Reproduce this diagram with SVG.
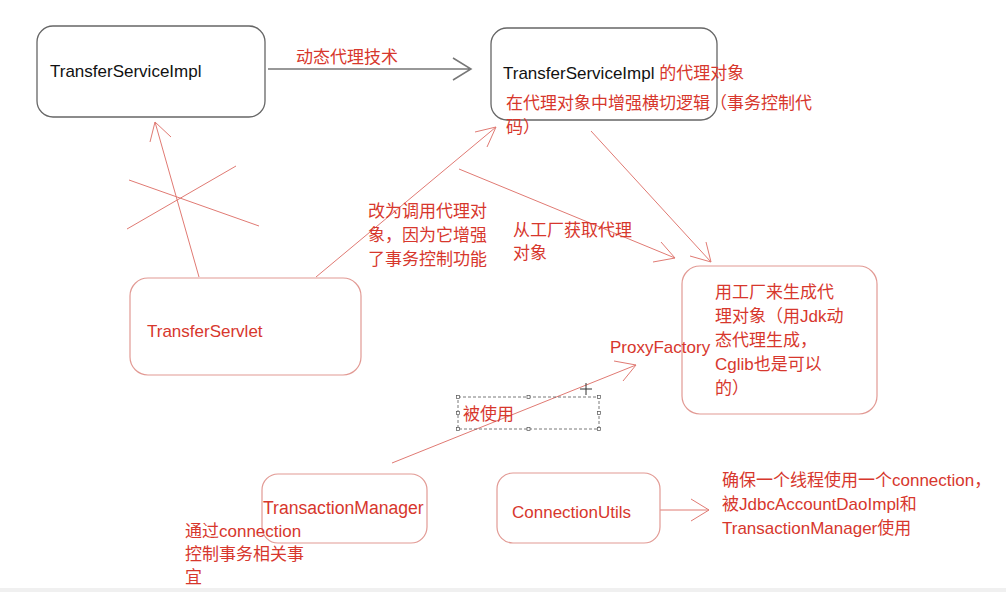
<svg xmlns="http://www.w3.org/2000/svg" width="1006" height="592" viewBox="0 0 1006 592">
<style>
text{font-family:"Liberation Sans","Noto Sans CJK SC",sans-serif;font-size:17px;fill:#d7372d}
.k{fill:#111}
.bb{fill:#fff;stroke:#666;stroke-width:1.3}
.rb{fill:#fff;stroke:#e29a94;stroke-width:1.2}
.ra{fill:none;stroke:#e07a73;stroke-width:1}
.ga{fill:none;stroke:#777;stroke-width:1.5}
</style>
<rect width="1006" height="592" fill="#fff"/>
<rect x="0" y="588" width="1006" height="4" fill="#f0f0f0"/>
<g id="connectors">
<path class="ga" d="M268 69H471M453 58L471 69L453 80"/>
<path class="ra" d="M199 277L155 122M150 142L155 122L171 137"/>
<path class="ra" d="M129 180L259 226M127 229L236 166"/>
<path class="ra" d="M316 277L496 127M475 132L496 127L487 147"/>
<path class="ra" d="M459 169L675 258M661 242L675 258L653 262"/>
<path class="ra" d="M591 131L711 262M706 242L711 262L690 256"/>
<path class="ra" d="M392 463L636 365M614 361L636 365L623 381"/>
<path class="ra" d="M660 510H709M691 499L709 510L691 521"/>
</g>
<g id="n-impl">
<rect class="bb" x="37" y="26" width="228" height="91" rx="16"/>
<text class="k" x="50" y="77">TransferServiceImpl</text>
</g>
<text x="296" y="63">动态代理技术</text>
<g id="n-proxy">
<rect class="bb" x="491" y="28" width="226" height="92" rx="16"/>
<text x="503" y="79"><tspan class="k">TransferServiceImpl</tspan> 的代理对象</text>
<text x="506" y="109">在代理对象中增强横切逻辑（事务控制代</text>
<text x="506" y="133">码）</text>
</g>
<g id="n-servlet">
<rect class="rb" x="130" y="278" width="231" height="97" rx="18"/>
<text x="147" y="337">TransferServlet</text>
</g>
<text x="368" y="217">改为调用代理对</text>
<text x="368" y="241">象，因为它增强</text>
<text x="368" y="265">了事务控制功能</text>
<text x="513" y="236">从工厂获取代理</text>
<text x="513" y="259">对象</text>
<g id="n-factory">
<rect class="rb" x="682" y="266" width="195" height="148" rx="18"/>
<text x="715" y="298">用工厂来生成代</text>
<text x="715" y="322">理对象（用Jdk动</text>
<text x="715" y="346">态代理生成，</text>
<text x="715" y="370">Cglib也是可以</text>
<text x="715" y="394">的）</text>
</g>
<text x="610" y="353">ProxyFactory</text>
<g id="selection">
<rect x="458" y="397" width="141" height="32" fill="none" stroke="#555" stroke-width="0.8" stroke-dasharray="3,2"/>
<g fill="#fff" stroke="#555" stroke-width="0.7">
<rect x="456.5" y="395.5" width="3" height="3"/><rect x="527" y="395.5" width="3" height="3"/><rect x="597.5" y="395.5" width="3" height="3"/>
<rect x="456.5" y="411.5" width="3" height="3"/><rect x="597.5" y="411.5" width="3" height="3"/>
<rect x="456.5" y="427.5" width="3" height="3"/><rect x="527" y="427.5" width="3" height="3"/><rect x="597.5" y="427.5" width="3" height="3"/>
</g>
<text x="463" y="420">被使用</text>
<path d="M586 383V395M580 389H592" stroke="#333" stroke-width="1"/>
</g>
<g id="n-tm">
<rect class="rb" x="262" y="474" width="165" height="69" rx="16"/>
<text x="263" y="514" style="font-size:17.6px">TransactionManager</text>
</g>
<text x="185" y="537">通过connection</text>
<text x="185" y="560">控制事务相关事</text>
<text x="185" y="583">宜</text>
<g id="n-cu">
<rect class="rb" x="497" y="473" width="163" height="70" rx="16"/>
<text x="512" y="518">ConnectionUtils</text>
</g>
<text x="722" y="486">确保一个线程使用一个connection，</text>
<text x="722" y="510">被JdbcAccountDaoImpl和</text>
<text x="722" y="534">TransactionManager使用</text>
</svg>
